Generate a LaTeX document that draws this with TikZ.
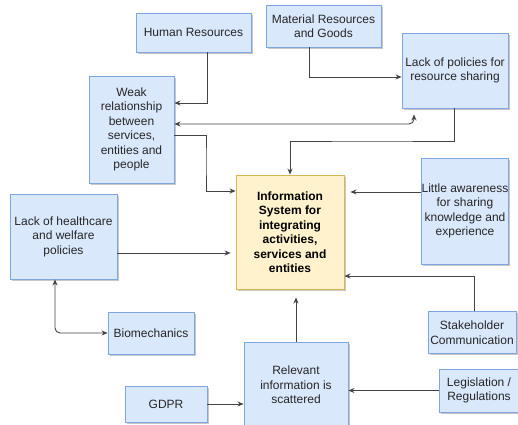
\documentclass[tikz,border=0pt]{standalone}
\usepackage{fontspec}
\setmainfont{Liberation Sans}
\usetikzlibrary{arrows.meta,shadows,calc}
\definecolor{bfill}{HTML}{DAE8FC}
\definecolor{bdraw}{HTML}{7EA6E0}
\definecolor{yfill}{HTML}{FFF2CC}
\definecolor{ydraw}{HTML}{D6B656}
\definecolor{ln}{HTML}{444444}
\definecolor{tx}{HTML}{262626}
\tikzset{
  box/.style={draw=bdraw, fill=bfill, line width=0.9pt, inner sep=0pt, align=center,
    font=\fontsize{12}{14.5}\selectfont, text=tx,
    drop shadow={shadow xshift=1.6pt, shadow yshift=-1.6pt, fill=black, opacity=0.22}},
  mainbox/.style={box, draw=ydraw, fill=yfill, font=\fontsize{12}{14.5}\selectfont\bfseries, text=black},
  arr/.style={draw=ln, line width=0.9pt, -{Stealth[length=6pt,width=5pt,fill=black]}},
  darr/.style={draw=ln, line width=0.9pt, {Stealth[length=6pt,width=5pt,fill=black]}-{Stealth[length=6pt,width=5pt,fill=black]}}
}
\begin{document}
\begin{tikzpicture}[x=1pt,y=-1pt]
\useasboundingbox (0,0) rectangle (518,424);
\clip (0,0) rectangle (518,424);
\fill[white] (0,0) rectangle (518,424);

\node[box, minimum width=115pt, minimum height=39pt] (hr) at (193.5,32.5) {Human Resources};
\node[box, minimum width=115pt, minimum height=42pt] (mat) at (323.5,26) {Material Resources\\and Goods};
\node[box, minimum width=106pt, minimum height=75pt] (lack) at (455,70.5) {Lack of policies for\\resource sharing};
\node[box, minimum width=85pt, minimum height=107pt] (weak) at (131.5,129.5) {Weak\\relationship\\between\\services,\\entities and\\people};
\node[mainbox, minimum width=108pt, minimum height=114pt] (info) at (290,232) {Information\\System for\\integrating\\activities,\\services and\\entities};
\node[box, minimum width=86pt, minimum height=106pt] (little) at (465,211) {Little awareness\\for sharing\\knowledge and\\experience};
\node[box, minimum width=107pt, minimum height=85pt] (health) at (63.5,236.5) {Lack of healthcare\\and welfare\\policies};
\node[box, minimum width=86pt, minimum height=42pt] (bio) at (151,333) {Biomechanics};
\node[box, minimum width=88pt, minimum height=42pt] (stake) at (472,332.5) {Stakeholder\\Communication};
\node[box, minimum width=80pt, minimum height=43pt] (legis) at (479,390.5) {Legislation /\\Regulations};
\node[box, minimum width=104pt, minimum height=86pt] (rel) at (296,385) {Relevant\\information is\\scattered};
\node[box, minimum width=82pt, minimum height=36pt] (gdpr) at (166,404) {GDPR};

% Human Resources -> Weak
\draw[arr] ([xshift=13.5pt]hr.south) |- ([yshift=26.5pt]weak.east);
% Material -> Lack of policies
\draw[arr] ([xshift=-14.5pt]mat.south) |- ([yshift=-6.5pt]lack.west);
% Weak <-> Lack of policies
\draw[darr, rounded corners=5pt, shorten >=6pt] ([yshift=5.5pt]weak.east) -| ([xshift=-41pt]lack.south);
% Lack of policies -> Info
\draw[arr] ([xshift=-1pt]lack.south) |- (372,141) -| (info.north);
% Weak -> Info
\draw[arr] ([yshift=-5.5pt]weak.east) -| (206,160) |- ([yshift=41pt]info.west);
% Little awareness -> Info
\draw[arr, shorten >=6pt] ([yshift=19pt]little.west) -- ([yshift=40pt]info.east);
% Stakeholder -> Info
\draw[arr] ([xshift=2pt]stake.north) |- ([yshift=-44pt]info.east);
% Health -> Info
\draw[arr, shorten >=5pt] ([yshift=-16.5pt]health.east) -- ([yshift=-21pt]info.west);
% Health <-> Biomechanics
\draw[darr, rounded corners=5pt] ([xshift=-8.5pt]health.south) |- (bio.west);
% Relevant -> Info
\draw[arr, shorten >=8pt] (rel.north) -- (rel.north |- info.south);
% Legislation -> Relevant
\draw[arr] (legis.west) -- (rel.east |- legis.west);
% GDPR -> Relevant
\draw[arr] (gdpr.east) -- (rel.west |- gdpr.east);
\end{tikzpicture}
\end{document}
